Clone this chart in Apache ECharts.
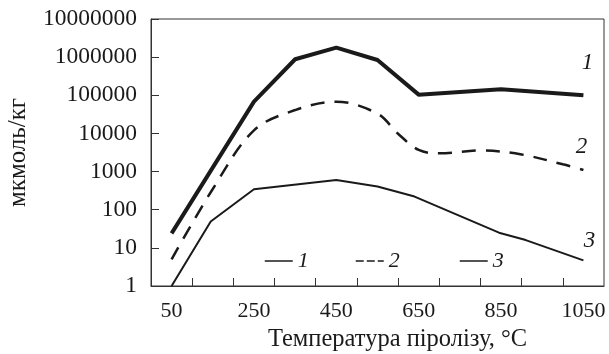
<!DOCTYPE html>
<html>
<head>
<meta charset="utf-8">
<script src="https://cdn.jsdelivr.net/npm/echarts@6/dist/echarts.min.js"></script>
<style>
  html, body { margin: 0; padding: 0; background: #fff; }
  #chart { width: 609px; height: 354px; }
</style>
</head>
<body>
<div id="chart"></div>
<script>
// Yield of pyrolysis products (мкмоль/кг) versus pyrolysis temperature
const temps1 = [50, 250, 350, 450, 550, 650, 850, 1050];
const values1 = [24, 68000, 880000, 1770000, 843000, 104000, 144000, 100000];

const temps2 = [50, 150, 250, 350, 450, 550, 600, 650, 700, 800, 900, 1000, 1050];
const values2 = [5, 350, 12000, 41000, 68000, 33000, 9800, 3700, 3000, 3600, 2800, 1550, 1100];

const temps3 = [50, 145, 250, 450, 550, 640, 845, 910, 1050];
const values3 = [1, 49, 345, 600, 404, 221, 25, 16, 4.7];

const seriesNames = ['1', '2', '3'];
const xTickLabels = [50, 250, 450, 650, 850, 1050];
const xTickMarks = [100, 200, 300, 400, 500, 600, 700, 800, 900, 1000];
const yTickLabels = ['1', '10', '100', '1000', '10000', '100000', '1000000', '10000000'];

const FONT = '"Liberation Serif", "DejaVu Serif", serif';
const INK = '#1a1a1a';

function pairs(xs, ys) {
  return xs.map((x, i) => [x, ys[i]]);
}

const endLabelBase = {
  show: true,
  fontFamily: FONT,
  fontStyle: 'italic',
  fontSize: 23,
  color: INK,
  align: 'center',
  verticalAlign: 'middle'
};

// one small legend per series so each sample can sit at its own spot
const legendBase = {
  orient: 'horizontal',
  itemWidth: 28,
  itemHeight: 22,
  itemStyle: { opacity: 0 },
  textStyle: { fontFamily: FONT, fontStyle: 'italic', fontSize: 22, color: INK, lineHeight: 22 },
  selectedMode: false,
  top: 245
};

const chart = echarts.init(document.getElementById('chart'), null, { renderer: 'canvas' });

chart.setOption({
  animation: false,
  backgroundColor: '#fff',
  grid: {
    left: 151, right: 5, top: 19, bottom: 68,
    outerBoundsMode: 'none',
    containLabel: false,
    show: true, borderColor: '#333', borderWidth: 1
  },
  legend: [
    Object.assign({}, legendBase, { data: [seriesNames[0]], left: 259, lineStyle: { width: 1.5, type: 'solid' } }),
    Object.assign({}, legendBase, { data: [seriesNames[1]], left: 350, lineStyle: { width: 1.5, type: [8, 3] } }),
    Object.assign({}, legendBase, { data: [seriesNames[2]], left: 454, lineStyle: { width: 1.5, type: 'solid' } })
  ],
  xAxis: {
    type: 'value',
    min: 0,
    max: 1100,
    interval: 100,
    name: 'Температура піролізу, °C',
    nameLocation: 'middle',
    nameGap: 41,
    nameTextStyle: { fontFamily: FONT, fontSize: 24.5, color: INK, padding: [0, 0, 0, 40] },
    axisLine: { lineStyle: { color: '#333', width: 1 } },
    axisTick: { show: true, inside: true, length: 8, customValues: xTickMarks, lineStyle: { color: '#333' } },
    axisLabel: {
      customValues: xTickLabels,
      fontFamily: FONT, fontSize: 22, color: INK, margin: 14,
      formatter: v => String(v)
    },
    splitLine: { show: false }
  },
  yAxis: {
    type: 'log',
    logBase: 10,
    min: 1,
    max: 10000000,
    name: 'мкмоль/кг',
    nameLocation: 'middle',
    nameGap: 120,
    nameTextStyle: { fontFamily: FONT, fontSize: 25, color: INK, padding: [0, 0, 0, 0] },
    axisLine: { show: true, lineStyle: { color: '#333', width: 1 } },
    axisTick: { show: true, inside: true, length: 8, lineStyle: { color: '#333' } },
    axisLabel: {
      fontFamily: FONT, fontSize: 23.5, color: INK, margin: 14,
      padding: [4, 0, 0, 0],
      formatter: v => yTickLabels[Math.round(Math.log10(v))]
    },
    splitLine: { show: false }
  },
  series: [
    {
      name: seriesNames[0],
      type: 'line',
      data: pairs(temps1, values1),
      symbol: 'none',
      lineStyle: { color: INK, width: 4, join: 'round' },
      itemStyle: { color: INK },
      endLabel: Object.assign({}, endLabelBase, { formatter: seriesNames[0], offset: [-4, -32] })
    },
    {
      name: seriesNames[1],
      type: 'line',
      data: pairs(temps2, values2),
      symbol: 'none',
      smooth: 0.35,
      lineStyle: { color: INK, width: 2.5, type: [14, 10] },
      itemStyle: { color: INK },
      endLabel: Object.assign({}, endLabelBase, { formatter: seriesNames[1], offset: [-10, -23] })
    },
    {
      name: seriesNames[2],
      type: 'line',
      data: pairs(temps3, values3),
      symbol: 'none',
      lineStyle: { color: INK, width: 2 },
      itemStyle: { color: INK },
      endLabel: Object.assign({}, endLabelBase, { formatter: seriesNames[2], offset: [-2, -19] })
    }
  ]
});
</script>
</body>
</html>
